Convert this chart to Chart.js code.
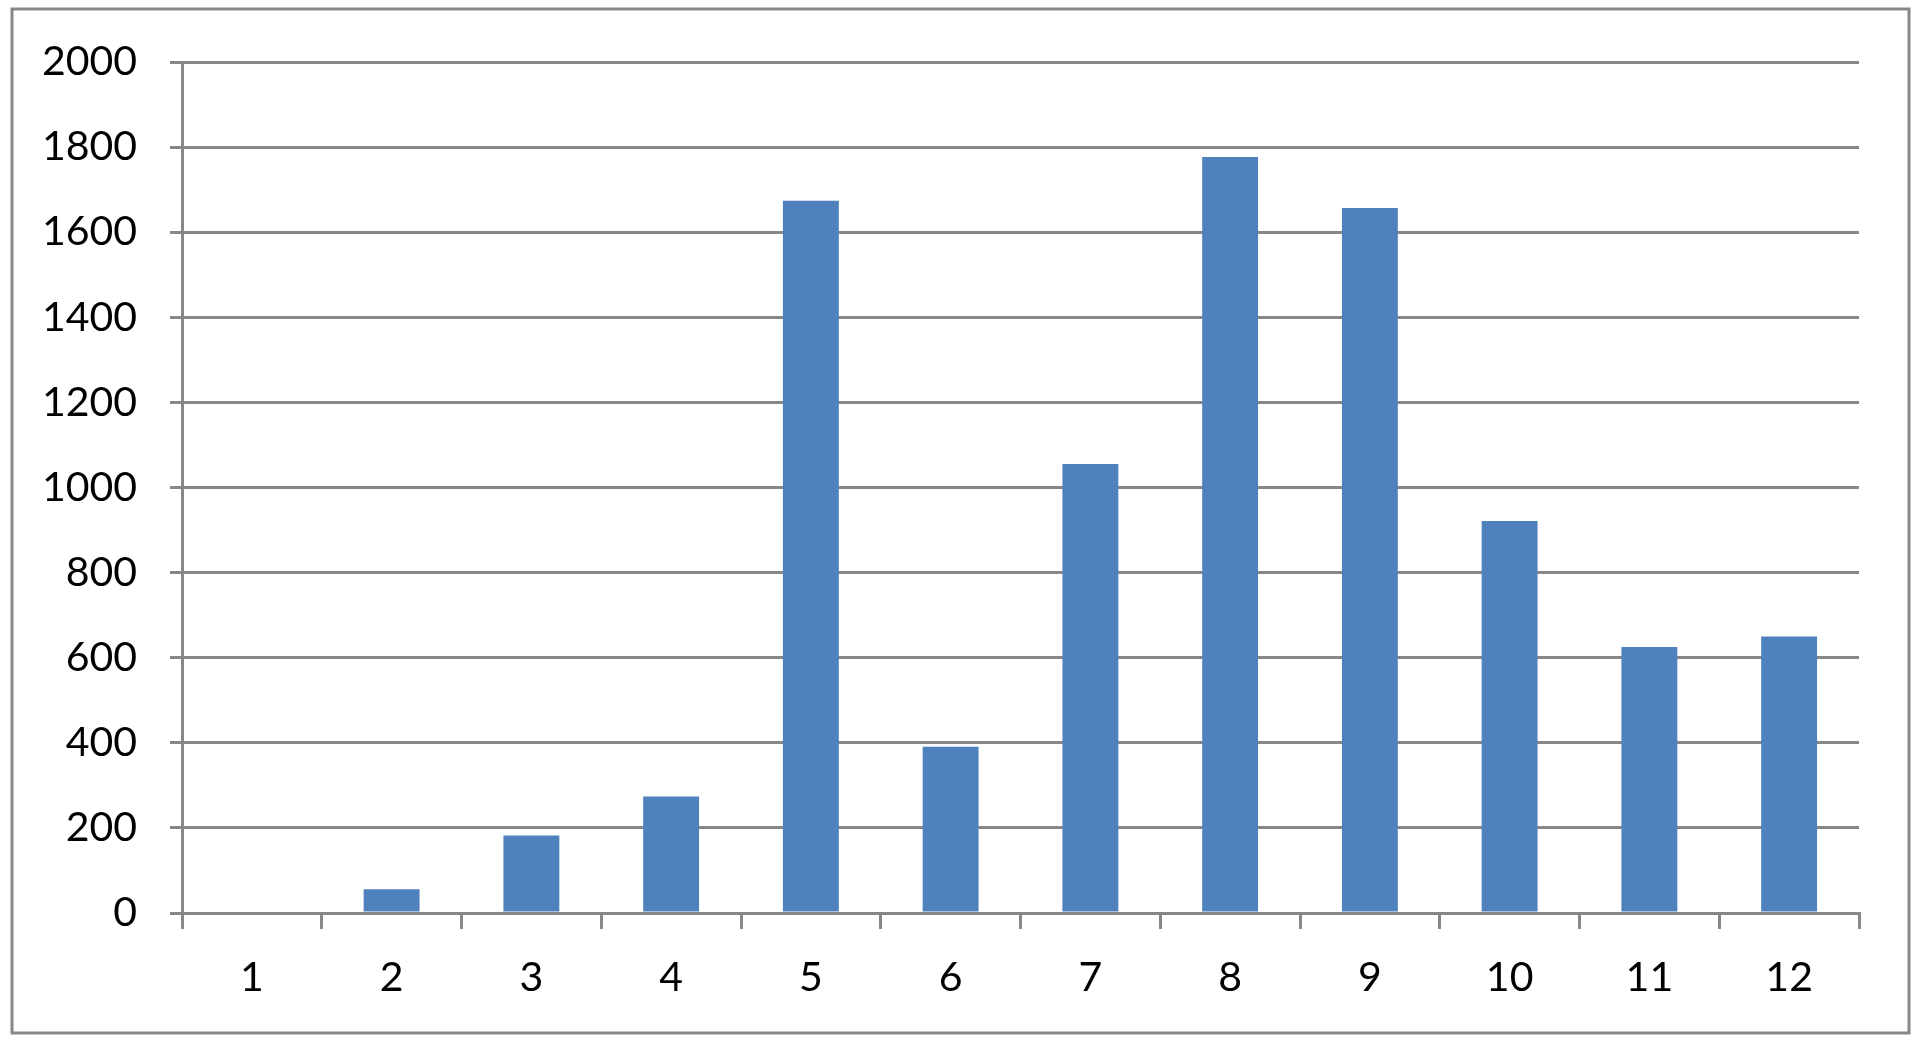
<!DOCTYPE html>
<html>
<head>
<meta charset="utf-8">
<script src="https://cdn.jsdelivr.net/npm/chart.js@4/dist/chart.umd.min.js"></script>
<style>
  html, body { margin: 0; padding: 0; background: #fff; }
  #wrap { width: 1920px; height: 1044px; }
</style>
</head>
<body>
<div id="wrap"><canvas id="chart" width="1920" height="1044"></canvas></div>
<script>
// data
const categories = ['1', '2', '3', '4', '5', '6', '7', '8', '9', '10', '11', '12'];
const values = [0, 56, 182, 274, 1674, 391, 1055, 1777, 1657, 921, 625, 650];
const yTicks = [0, 200, 400, 600, 800, 1000, 1200, 1400, 1600, 1800, 2000];

const axisGray = '#878787';

// outer frame round the whole chart
const framePlugin = {
  id: 'frame',
  afterDraw(chart) {
    const ctx = chart.ctx;
    ctx.save();
    ctx.strokeStyle = axisGray;
    ctx.lineWidth = 3;
    ctx.strokeRect(12, 9, 1897, 1024);
    ctx.restore();
  }
};

new Chart(document.getElementById('chart'), {
  type: 'bar',
  data: {
    labels: categories,
    datasets: [{
      data: values,
      backgroundColor: '#4F81BD',
      borderWidth: 0,
      categoryPercentage: 1,
      barPercentage: 0.4
    }]
  },
  options: {
    responsive: false,
    animation: false,
    layout: { padding: { top: 62, right: 61, left: 0, bottom: 0 } },
    plugins: { legend: { display: false }, tooltip: { enabled: false } },
    scales: {
      x: {
        afterFit: (s) => { s.height = 131; },
        grid: {
          offset: true,
          drawOnChartArea: false,
          drawTicks: true,
          tickLength: 16,
          color: axisGray,
          lineWidth: 3
        },
        border: { display: true, color: axisGray, width: 3 },
        ticks: {
          color: '#000',
          padding: 24,
          font: { family: 'Lato', size: 41 }
        }
      },
      y: {
        min: 0,
        max: 2000,
        afterFit: (s) => { s.width = 182; },
        afterBuildTicks: (s) => { s.ticks = yTicks.map(v => ({ value: v })); },
        grid: {
          color: axisGray,
          lineWidth: 3,
          drawTicks: true,
          tickLength: 12
        },
        border: { display: true, color: axisGray, width: 3 },
        ticks: {
          color: '#000',
          padding: 33,
          font: { family: 'Lato', size: 41 },
          callback: (v) => String(v)
        }
      }
    }
  },
  plugins: [framePlugin]
});
</script>
</body>
</html>
